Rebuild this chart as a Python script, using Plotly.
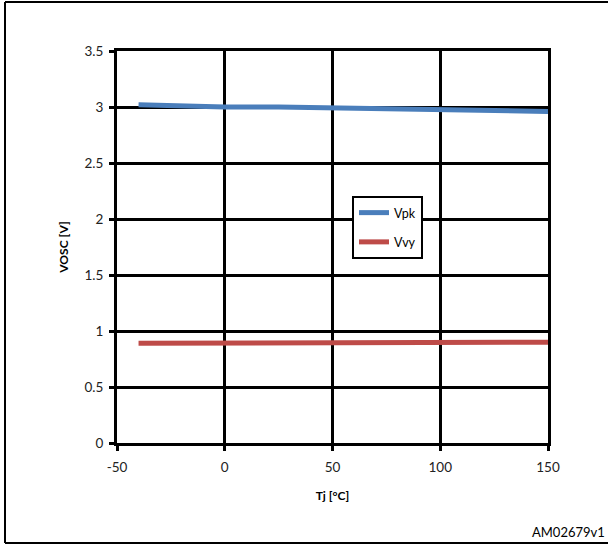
import plotly.graph_objects as go

tj = [-40, 0, 25, 50, 75, 100, 125, 150]
vpk = [3.02, 3.00, 3.00, 2.99, 2.99, 2.98, 2.97, 2.96]
vvy = [0.89, 0.89, 0.90, 0.90, 0.90, 0.90, 0.90, 0.90]
x_ticks = [-50, 0, 50, 100, 150]
x_ticklabels = ["-50", "0", "50", "100", "150"]
y_ticks = [0, 0.5, 1, 1.5, 2, 2.5, 3, 3.5]
y_ticklabels = ["0", "0.5", "1", "1.5", "2", "2.5", "3", "3.5"]

W, H = 608, 545
ML, MR, MT, MB = 117, 60, 51, 102
PW, PH = W - ML - MR, H - MT - MB

def px(x):
    return (x - ML) / PW

def py(y):
    return (H - MB - y) / PH

FONT = "Lato"

fig = go.Figure()
fig.add_trace(go.Scatter(x=tj, y=vpk, mode="lines", name="Vpk", legendgroup="a",
                         line=dict(color="#4a7ebb", width=5)))
fig.add_trace(go.Scatter(x=tj, y=vvy, mode="lines", name="Vvy", legendgroup="b",
                         line=dict(color="#be4b48", width=5)))

axis_common = dict(showgrid=True, gridcolor="black", gridwidth=3,
                   showline=True, linecolor="black", linewidth=3, mirror=True,
                   ticks="outside", ticklen=5, tickwidth=3, tickcolor="black",
                   zeroline=False, tickfont=dict(family=FONT, size=13.5, color="#222"))

fig.update_xaxes(range=[-50, 150], tickvals=x_ticks, ticktext=x_ticklabels, **axis_common,
                 ticklabelstandoff=5,
                 title=dict(text="<b>Tj [°C]</b>", font=dict(family=FONT, size=12, color="black"), standoff=18))
fig.update_yaxes(range=[0, 3.5], tickvals=y_ticks, ticktext=y_ticklabels, **axis_common,
                 ticklabelstandoff=3,
                 title=dict(text="<b>VOSC [V]</b>", font=dict(family=FONT, size=12, color="black"), standoff=14))

fig.update_layout(
    width=W, height=H,
    margin=dict(l=ML, r=MR, t=MT, b=MB),
    plot_bgcolor="white", paper_bgcolor="white",
    font=dict(family=FONT, color="black"),
    hovermode=False,
    legend=dict(x=px(352), y=py(196), xanchor="left", yanchor="top",
                bgcolor="white", bordercolor="black", borderwidth=2,
                font=dict(family=FONT, size=12.5, color="black"),
                itemwidth=30, tracegroupgap=10),
    shapes=[
        dict(type="line", xref="paper", yref="paper", x0=px(5), x1=px(612), y0=py(2), y1=py(2),
             line=dict(color="black", width=2)),
        dict(type="line", xref="paper", yref="paper", x0=px(5), x1=px(5), y0=py(2), y1=py(543),
             line=dict(color="black", width=2)),
        dict(type="line", xref="paper", yref="paper", x0=px(5), x1=px(612), y0=py(543), y1=py(543),
             line=dict(color="black", width=2)),
    ],
    annotations=[
        dict(text="AM02679v1", xref="paper", yref="paper", x=px(607), y=py(532),
             xanchor="right", yanchor="middle", showarrow=False,
             font=dict(family=FONT, size=13, color="black")),
    ],
)

fig.write_html("out.html", config={"displayModeBar": False},
               post_script="document.body.style.margin='0';document.body.style.overflow='hidden';")
